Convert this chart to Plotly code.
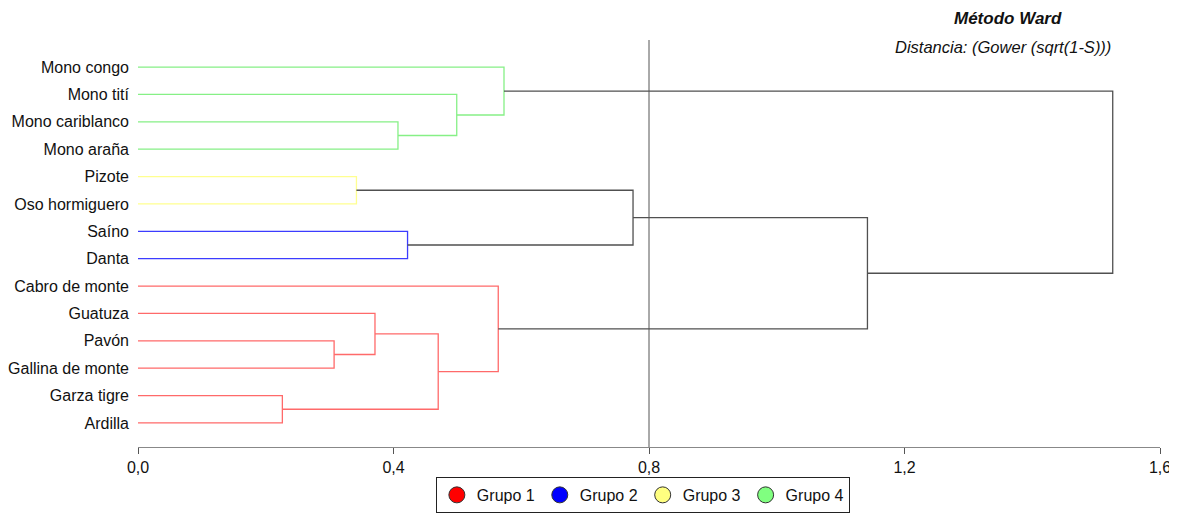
import plotly.graph_objects as go

# hojas, de arriba hacia abajo
especies = [
    "Mono congo", "Mono tití", "Mono cariblanco", "Mono araña",
    "Pizote", "Oso hormiguero", "Saíno", "Danta",
    "Cabro de monte", "Guatuza", "Pavón", "Gallina de monte",
    "Garza tigre", "Ardilla",
]
grupo = [4, 4, 4, 4, 3, 3, 2, 2, 1, 1, 1, 1, 1, 1]

# uniones (hijo a, hijo b, distancia); nodos nuevos numerados desde 14
uniones = [
    (2, 3, 0.407),
    (1, 14, 0.499),
    (0, 15, 0.573),
    (4, 5, 0.342),
    (6, 7, 0.422),
    (17, 18, 0.775),
    (10, 11, 0.307),
    (9, 20, 0.371),
    (12, 13, 0.226),
    (21, 22, 0.470),
    (8, 23, 0.564),
    (19, 24, 1.142),
    (16, 25, 1.526),
]

grupos = ["Grupo 1", "Grupo 2", "Grupo 3", "Grupo 4"]
color_linea = {1: "#ff6a6a", 2: "#3c3cff", 3: "#ffff90", 4: "#86f086", 0: "#505050"}
color_leyenda = ["#ff0000", "#0000ff", "#ffff80", "#80ff80"]

n = len(especies)
pos_y = {i: n - 1 - i for i in range(n)}
pos_x = {i: 0.0 for i in range(n)}
grupo_nodo = {i: grupo[i] for i in range(n)}

segs = {k: ([], []) for k in color_linea}
for k, (a, b, h) in enumerate(uniones):
    nodo = n + k
    g = grupo_nodo[a] if grupo_nodo[a] == grupo_nodo[b] else 0
    xs, ys = segs[g]
    xs += [pos_x[a], h, h, pos_x[b], None]
    ys += [pos_y[a], pos_y[a], pos_y[b], pos_y[b], None]
    pos_x[nodo] = h
    pos_y[nodo] = (pos_y[a] + pos_y[b]) / 2
    grupo_nodo[nodo] = g

fig = go.Figure()
for g, (xs, ys) in segs.items():
    fig.add_trace(go.Scatter(
        x=xs, y=ys, mode="lines", showlegend=False, hoverinfo="skip",
        line=dict(color=color_linea[g], width=1.3),
    ))

for nombre, c in zip(grupos, color_leyenda):
    fig.add_trace(go.Scatter(
        x=[None], y=[None], mode="markers", name=nombre,
        marker=dict(size=18, color=c, line=dict(color="#333333", width=1)),
    ))

fig.add_shape(type="line", xref="x", yref="paper", x0=0.8, x1=0.8, y0=0, y1=1,
              line=dict(color="#555555", width=1))

fig.add_annotation(text="<b><i>Método Ward</i></b>", xref="paper", yref="paper",
                   x=0.851, y=1.054, xanchor="center", yanchor="middle",
                   showarrow=False, font=dict(size=17, color="#111111"))
fig.add_annotation(text="<i>Distancia: (Gower (sqrt(1-S)))</i>", xref="paper", yref="paper",
                   x=0.954, y=0.983, xanchor="right", yanchor="middle",
                   showarrow=False, font=dict(size=16.5, color="#111111"))

# el body de la página tiene 8 px de margen; se compensa aquí
fig.update_layout(
    width=1169, height=507,
    margin=dict(l=130, r=17, t=32, b=68),
    paper_bgcolor="white", plot_bgcolor="white",
    font=dict(family="Liberation Sans, Arial, sans-serif", size=16, color="#111111"),
    separators=",.",
    xaxis=dict(range=[0, 1.6], tickvals=[0, 0.4, 0.8, 1.2, 1.6], tickformat=".1f",
               showgrid=False, zeroline=False, showline=True, linecolor="#888888",
               ticks="outside", ticklen=6, tickcolor="#555555", automargin=False),
    yaxis=dict(range=[-0.88, 13.99], tickvals=list(range(n)),
               ticktext=especies[::-1], showgrid=False, zeroline=False,
               showline=False, ticks="", ticklabelstandoff=8, automargin=False),
    legend=dict(orientation="h", xref="paper", yref="container", x=0.494, y=0.004,
                xanchor="center", yanchor="bottom", bordercolor="#222222", borderwidth=1,
                font=dict(size=16), itemwidth=30, tracegroupgap=0),
)

fig.write_html("out.html")
